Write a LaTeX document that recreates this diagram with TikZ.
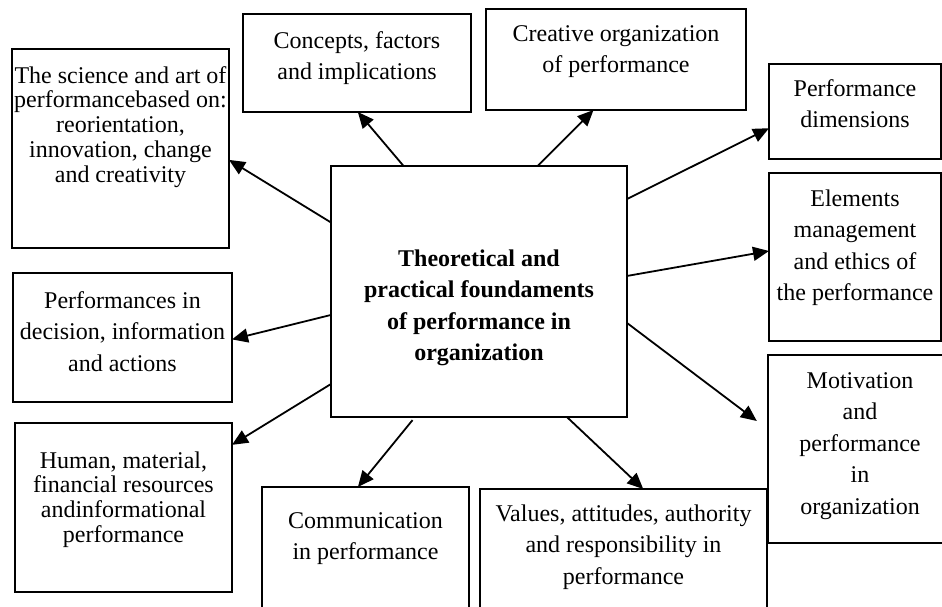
\documentclass[tikz,border=0pt]{standalone}
\usepackage{fontspec}
\setmainfont{Liberation Serif}
\usetikzlibrary{arrows.meta}

% text of a box: width, height, top gap, lines
\newcommand{\boxtext}[4]{\parbox[c][#2][t]{#1}{\centering\vspace*{#3}\rule{0pt}{9pt}#4}}

\begin{document}
\begin{tikzpicture}[->,>={Triangle[length=8pt,width=7pt]},x=0.5pt,y=-0.5pt,
                    line width=0.9pt]
  \tikzstyle{block}=[draw,rectangle,inner sep=0pt,outer sep=0pt,anchor=north west,
                     font=\fontsize{12}{15.75}\selectfont]
  \tikzstyle{tightblock}=[block,font=\fontsize{12}{12.4}\selectfont]

  \useasboundingbox (0,0) rectangle (942,606);
  \clip (0,0) rectangle (942,606);

  \node[block] (cen) at (331,166) {\boxtext{148pt}{125.5pt}{41pt}{\bfseries Theoretical and\\ practical foundaments\\ of performance in\\ organization}};
  \node[tightblock] (sci) at (12,49) {\boxtext{108.5pt}{99.5pt}{8pt}{The science and art of\\ performancebased on:\\ reorientation,\\ innovation, change\\ and creativity}};
  \node[block] (con) at (243,14) {\boxtext{114pt}{49pt}{8pt}{Concepts, factors\\ and implications}};
  \node[block] (cre) at (486,9) {\boxtext{130pt}{50.5pt}{7pt}{Creative organization\\ of performance}};
  \node[block] (dim) at (769,64) {\boxtext{86pt}{47.5pt}{7pt}{Performance\\ dimensions}};
  \node[block] (ele) at (769,173) {\boxtext{86pt}{84pt}{7.5pt}{Elements\\ management\\ and ethics of\\ the performance}};
  \node[block] (mot) at (768,355) {\boxtext{92pt}{94pt}{7.5pt}{Motivation\\ and\\ performance\\ in\\ organization}};
  \node[block] (val) at (480,489) {\boxtext{143.5pt}{85.5pt}{7pt}{Values, attitudes, authority\\ and responsibility in\\ performance}};
  \node[block] (com) at (262,487) {\boxtext{103.5pt}{86.5pt}{11.5pt}{Communication\\ in performance}};
  \node[block] (dec) at (13,273) {\boxtext{109.5pt}{64.5pt}{8.5pt}{Performances in\\ decision, information\\ and actions}};
  \node[tightblock] (hum) at (15,423) {\boxtext{108.5pt}{84.5pt}{13.5pt}{Human, material,\\ financial resources\\ andinformational\\ performance}};

  \path (cen.155)    edge (sci.-6)
        (cen.121)    edge (con.-89)
        (cen.65)     edge (cre.-114.5)
        (cen.32.6)   edge (dim.-169.8)
        (cen.6.4)    edge (ele.176.7)
        (cen.-12)    edge[shorten >=7pt] (mot.168.3)
        (cen.-55.6)  edge (val.77.8)
        (cen.-117.4) edge[shorten <=2pt] (com.95)
        (cen.-171)   edge (dec.-1.3)
        (cen.-148.6) edge (hum.30.7);
\end{tikzpicture}
\end{document}
